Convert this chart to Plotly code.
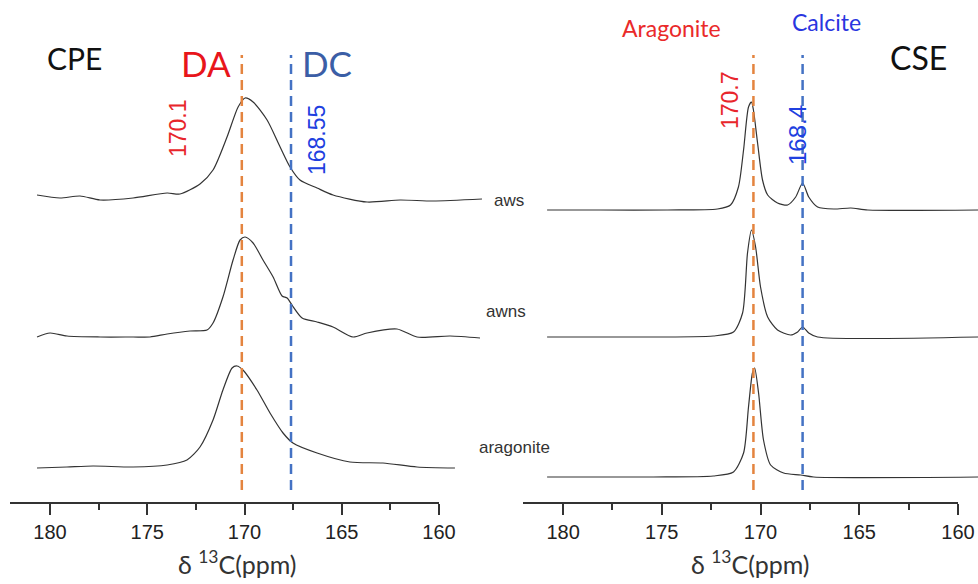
import plotly.graph_objects as go

# ---------------- data ----------------
# CPE panel (left)
cpe_aws_ppm = [180.67, 179.49, 178.46, 177.43, 175.73, 173.98, 173.32, 172.29, 171.62, 170.90, 170.33,
               169.97, 169.56, 168.84, 168.17, 167.66, 167.15, 166.27, 165.45, 163.70, 162.00, 160.31, 157.79]
cpe_aws_int = [5, 2, 4, 0, 2, 7, 6, 16, 30, 63, 93, 102, 98, 80, 53, 33, 20, 12, 5, -2, 0, -1, 1]

cpe_awns_ppm = [180.67, 180.00, 179.13, 177.43, 175.73, 174.86, 173.98, 172.80, 171.93, 171.62, 171.11,
                170.59, 170.23, 169.97, 169.56, 169.05, 168.53, 168.07, 167.81, 167.56, 167.04, 166.27,
                165.45, 164.42, 163.70, 162.16, 161.13, 159.43, 157.89]
cpe_awns_int = [0, 4, 1, 0, 0, 0, 3, 6, 7, 14, 40, 77, 97, 100, 94, 77, 60, 41, 39, 32, 19, 15,
                10, 0, 4, 8, 0, 1, -1]

cpe_arag_ppm = [180.67, 179.13, 177.79, 175.73, 173.98, 172.96, 172.29, 171.62, 171.11, 170.64, 170.39,
                170.08, 169.36, 168.69, 168.02, 167.51, 166.27, 164.58, 162.88, 161.13, 159.18]
cpe_arag_int = [-1, 0, 1, 0, 2, 7, 20, 47, 77, 99, 101, 97, 77, 54, 34, 24, 14, 5, 4, 0, -1]

# CSE panel (right)
cse_aws_ppm = [180.81, 178.12, 174.72, 172.18, 171.52, 171.12, 170.86, 170.61, 170.46, 170.36, 170.15,
               169.90, 169.64, 169.14, 168.63, 168.22, 167.87, 167.56, 167.11, 166.29, 165.43, 164.57, 158.93]
cse_aws_int = [0, 0, 0, 1, 5, 23, 60, 103, 108, 100, 67, 30, 15, 7, 5, 13, 27, 13, 3, 1, 2, 0, 0]

cse_awns_ppm = [180.81, 176.45, 172.39, 171.37, 170.91, 170.66, 170.46, 170.25, 170.00, 169.64, 169.14,
                168.48, 168.12, 167.87, 167.56, 167.11, 158.93]
cse_awns_int = [0, 0, 1, 5, 24, 84, 107, 90, 50, 20, 7, 2, 5, 10, 4, 0, 0]

cse_arag_ppm = [180.81, 175.43, 172.39, 171.37, 170.86, 170.61, 170.41, 170.30, 170.10, 169.85, 169.49,
                168.83, 167.97, 167.31, 158.93]
cse_arag_int = [0, 0, 1, 5, 24, 70, 104, 109, 84, 37, 12, 4, 2, 0, 0]

sample_names = ["aws", "awns", "aragonite"]
cpe_offsets = [302, 165, 35]
cse_offsets = [292, 165, 25]

# reference line positions (ppm, as drawn) and their labels
cpe_lines = [170.14, 167.61]
cse_lines = [170.36, 167.87]
cpe_line_labels = ["170.1", "168.55"]
cse_line_labels = ["170.7", "168.4"]

tick_vals = [180, 175, 170, 165, 160]
tick_text = ["180", "175", "170", "165", "160"]

# ---------------- layout geometry ----------------
W, H = 978, 584
PLOT_B = 502  # pixel row of x axis lines

# visible axes: pixel extents and ppm range
L_px = (10, 439); L_rng = (182.06, 160.0)
R_px = (523, 958); R_rng = (182.03, 160.0)
# hidden axes for spectra extending past the axis ends (same scale)
L_ext_px = 492
R_ext_px = 978
def ext_range(px, rng, ext_px):
    scale = (rng[0] - rng[1]) / (px[1] - px[0])
    return [rng[0], rng[0] - (ext_px - px[0]) * scale]

ORANGE = "#E4843F"
BLUE = "#4472C4"
LINE = "#333333"

fig = go.Figure()

for ppm, inten, off in [(cpe_aws_ppm, cpe_aws_int, cpe_offsets[0]),
                        (cpe_awns_ppm, cpe_awns_int, cpe_offsets[1]),
                        (cpe_arag_ppm, cpe_arag_int, cpe_offsets[2])]:
    fig.add_trace(go.Scatter(x=ppm, y=[v + off for v in inten], mode="lines",
                             line=dict(color=LINE, width=1.2, shape="spline", smoothing=0.7),
                             xaxis="x3", yaxis="y", hoverinfo="skip"))
for ppm, inten, off in [(cse_aws_ppm, cse_aws_int, cse_offsets[0]),
                        (cse_awns_ppm, cse_awns_int, cse_offsets[1]),
                        (cse_arag_ppm, cse_arag_int, cse_offsets[2])]:
    fig.add_trace(go.Scatter(x=ppm, y=[v + off for v in inten], mode="lines",
                             line=dict(color=LINE, width=1.2, shape="spline", smoothing=0.7),
                             xaxis="x4", yaxis="y", hoverinfo="skip"))

# dashed reference lines
y_top, y_bot = (PLOT_B - 55) / PLOT_B, (PLOT_B - 490) / PLOT_B
for xref, vals in [("x", cpe_lines), ("x2", cse_lines)]:
    for v, col in zip(vals, [ORANGE, BLUE]):
        fig.add_shape(type="line", xref=xref, yref="paper", x0=v, x1=v, y0=y_bot, y1=y_top,
                      line=dict(color=col, width=2.5, dash="10px,6px"))

axis_common = dict(showline=True, linewidth=2, linecolor="#333", showgrid=False, zeroline=False,
                   ticks="outside", ticklen=11, tickwidth=2, tickcolor="#333",
                   tickmode="array", tickvals=tick_vals, ticktext=tick_text,
                   tickfont=dict(family="Liberation Sans, Arial", size=20, color="#222"),
                   minor=dict(dtick=2.5, tick0=160, ticks="outside", ticklen=6, tickwidth=2, tickcolor="#333"),
                   anchor="y", fixedrange=True, automargin=False)
hidden = dict(visible=False, showgrid=False, zeroline=False, anchor="y", fixedrange=True, automargin=False)

fig.update_layout(
    width=W, height=H, autosize=False, margin=dict(l=0, r=0, t=0, b=H - PLOT_B, pad=0),
    paper_bgcolor="white", plot_bgcolor="rgba(0,0,0,0)", showlegend=False,
    xaxis=dict(domain=[L_px[0] / W, L_px[1] / W], range=list(L_rng), **axis_common),
    xaxis2=dict(domain=[R_px[0] / W, R_px[1] / W], range=list(R_rng), **axis_common),
    xaxis3=dict(domain=[L_px[0] / W, L_ext_px / W], range=ext_range(L_px, L_rng, L_ext_px), **hidden),
    xaxis4=dict(domain=[R_px[0] / W, R_ext_px / W], range=ext_range(R_px, R_rng, R_ext_px), **hidden),
    yaxis=dict(domain=[0, 1], range=[0, PLOT_B], visible=False, fixedrange=True, automargin=False),
)

def ann(text, px, py, size, color, family="Lato", angle=0):
    fig.add_annotation(text=text, x=px / W, y=(PLOT_B - py) / PLOT_B, xref="paper", yref="paper",
                       xanchor="center", yanchor="middle", showarrow=False, textangle=angle,
                       font=dict(family=family, size=size, color=color))

ARIAL = "Liberation Sans, Arial"
ann("CPE", 74, 58, 30, "#111")
ann("DA", 206, 63, 35, "#E8151B")
ann("DC", 327, 63, 35, "#3B5EA6")
ann(cpe_line_labels[0], 178, 128, 23, "#E8262B", ARIAL, -90)
ann(cpe_line_labels[1], 317, 140, 23, "#2040E0", ARIAL, -90)
ann("Aragonite", 671, 28, 23, "#EA2A2A")
ann("Calcite", 826, 22, 23, "#2A36E0")
ann("CSE", 918, 57, 32, "#111")
ann(cse_line_labels[0], 730, 100, 23, "#E8262B", ARIAL, -90)
ann(cse_line_labels[1], 797, 135, 24, "#2040E0", ARIAL, -90)
for name, (px, py) in zip(sample_names, [(509, 200), (506, 311), (514, 447)]):
    ann(name, px, py, 17, "#333", ARIAL)
ann("δ <sup>13</sup>C(ppm)", 237, 562, 25, "#333")
ann("δ <sup>13</sup>C(ppm)", 750, 562, 25, "#333")

fig.write_html("out.html")
